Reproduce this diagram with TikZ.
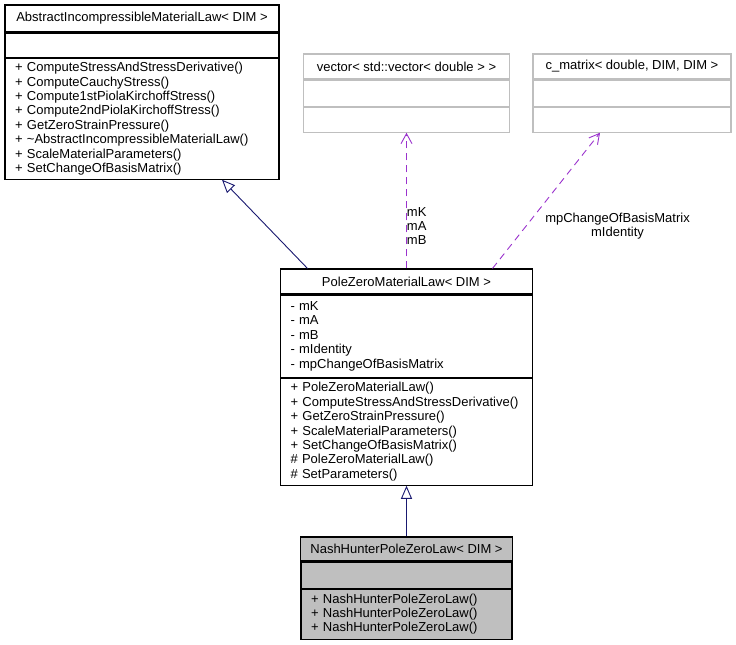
\documentclass[tikz,border=0pt]{standalone}
\usepackage{fontspec}
\setmainfont{Liberation Sans}
\usetikzlibrary{positioning, arrows.meta}

\definecolor{inheritblue}{HTML}{191970}
\definecolor{usepurple}{HTML}{9A32CD}
\definecolor{boxgray}{HTML}{BFBFBF}

\tikzset{
    part/.style={draw, rectangle, line width=1.1pt, inner xsep=10pt, inner ysep=0pt,
        font=\fontsize{13}{14.4}\selectfont},
    title/.style={part, align=center},
    members/.style={part, align=left},
    extern/.style={draw=boxgray},
    current/.style={fill=boxgray},
    inherit/.style={draw=inheritblue, line width=0.9pt,
        -{Triangle[open, length=13pt, width=11pt]}},
    uses/.style={draw=usepurple, line width=0.9pt, dash pattern=on 7pt off 5pt,
        -{Straight Barb[length=10pt, width=11pt]}},
    edgelabel/.style={font=\fontsize{13}{14}\selectfont, inner sep=0pt}
}

\begin{document}
\begin{tikzpicture}[x=1pt, y=-1pt]
            \useasboundingbox (0,0) rectangle (736,645);

            %Nodes
            \node[title, minimum width=274pt, minimum height=27pt] at (142,18.5) (abstractT)
                {AbstractIncompressibleMaterialLaw< DIM >};
            \node[members, text width=254pt, minimum height=24pt, below=0pt of abstractT] (abstractA) {};
            \node[members, text width=254pt, minimum height=121pt, below=0pt of abstractA] (abstractM)
                {+ ComputeStressAndStressDerivative()\\
                 + ComputeCauchyStress()\\
                 + Compute1stPiolaKirchoffStress()\\
                 + Compute2ndPiolaKirchoffStress()\\
                 + GetZeroStrainPressure()\\
                 + \textasciitilde AbstractIncompressibleMaterialLaw()\\
                 + ScaleMaterialParameters()\\
                 + SetChangeOfBasisMatrix()};

            \node[title, extern, minimum width=206pt, minimum height=25pt] at (406.5,66.5) (vectorT)
                {vector< std::vector< double > >};
            \node[members, extern, text width=186pt, minimum height=26pt, below=0pt of vectorT] (vectorA) {};
            \node[members, extern, text width=186pt, minimum height=25pt, below=0pt of vectorA] (vectorM) {};

            \node[title, extern, minimum width=198pt, minimum height=25pt] at (632,66.5) (matrixT)
                {c\_matrix< double, DIM, DIM >};
            \node[members, extern, text width=178pt, minimum height=26pt, below=0pt of matrixT] (matrixA) {};
            \node[members, extern, text width=178pt, minimum height=25pt, below=0pt of matrixA] (matrixM) {};

            \node[title, minimum width=252pt, minimum height=25pt] at (406.5,281.5) (poleT)
                {PoleZeroMaterialLaw< DIM >};
            \node[members, text width=232pt, minimum height=82pt, below=0pt of poleT] (poleA)
                {- mK\\
                 - mA\\
                 - mB\\
                 - mIdentity\\
                 - mpChangeOfBasisMatrix};
            \node[members, text width=232pt, minimum height=107pt, below=0pt of poleA] (poleM)
                {+ PoleZeroMaterialLaw()\\
                 + ComputeStressAndStressDerivative()\\
                 + GetZeroStrainPressure()\\
                 + ScaleMaterialParameters()\\
                 + SetChangeOfBasisMatrix()\\
                 \# PoleZeroMaterialLaw()\\
                 \# SetParameters()};

            \node[title, current, minimum width=211pt, minimum height=24pt] at (406.5,549) (nashT)
                {NashHunterPoleZeroLaw< DIM >};
            \node[members, current, text width=191pt, minimum height=26pt, below=0pt of nashT] (nashA) {};
            \node[members, current, text width=191pt, minimum height=50pt, below=0pt of nashA] (nashM)
                {+ NashHunterPoleZeroLaw()\\
                 + NashHunterPoleZeroLaw()\\
                 + NashHunterPoleZeroLaw()};

            %Lines
            \draw[inherit] ([xshift=-99pt]poleT.north) -- ([xshift=80pt]abstractM.south);
            \draw[inherit] (nashT.north) -- (poleM.south);
            \draw[uses] (poleT.north) -- (vectorM.south)
                node[edgelabel, pos=0.31, anchor=west, align=left] {mK\\mA\\mB};
            \draw[uses] ([xshift=86pt]poleT.north) -- ([xshift=-32pt]matrixM.south)
                node[edgelabel, pos=0.31, right=19pt, align=center] {mpChangeOfBasisMatrix\\mIdentity};
        \end{tikzpicture}
\end{document}
